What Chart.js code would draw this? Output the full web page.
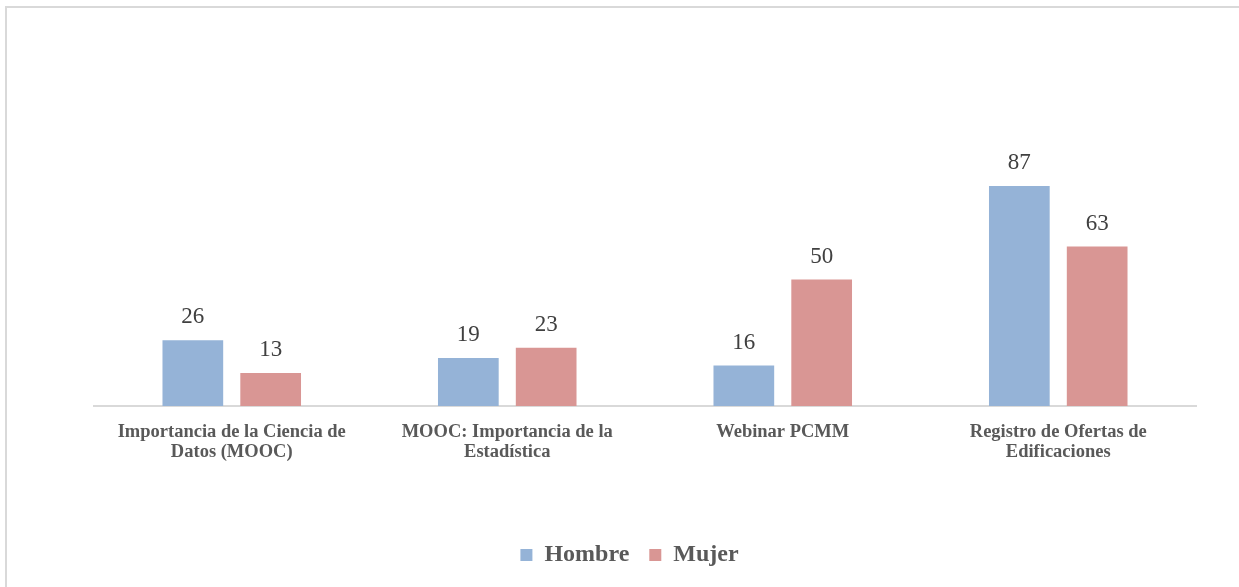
<!DOCTYPE html>
<html>
<head>
<meta charset="utf-8">
<script src="https://cdn.jsdelivr.net/npm/chart.js@4.4.1/dist/chart.umd.min.js"></script>
<style>
    html, body { margin: 0; padding: 0; background: #fff; overflow: hidden; }
    #frame { position: absolute; left: 5px; top: 6px; width: 1300px; height: 700px; border: 2px solid #d9d9d9; }
    #wrap { position: absolute; left: 0; top: 0; width: 1239px; height: 587px; }
</style>
</head>
<body>
<div id="frame"></div>
<div id="wrap"><canvas id="bargraph"></canvas></div>
<script>
// Chart data
var categories = [
    ['Importancia de la Ciencia de', 'Datos (MOOC)'],
    ['MOOC: Importancia de la', 'Estadística'],
    'Webinar PCMM',
    ['Registro de Ofertas de', 'Edificaciones']
];
var hombre = [26, 19, 16, 87];
var mujer = [13, 23, 50, 63];

var serif = '"Liberation Serif", "Times New Roman", serif';

// value labels above the bars
var valueLabels = {
    id: 'valueLabels',
    afterDatasetsDraw: function(chart) {
        var ctx = chart.ctx;
        ctx.save();
        ctx.font = '23px ' + serif;
        ctx.fillStyle = '#404040';
        ctx.textAlign = 'center';
        ctx.textBaseline = 'middle';
        chart.data.datasets.forEach(function(ds, i) {
            chart.getDatasetMeta(i).data.forEach(function(bar, j) {
                ctx.fillText(ds.data[j], bar.x, bar.y - 23);
            });
        });
        ctx.restore();
    }
};

var ctx = document.getElementById('bargraph').getContext('2d');
window.myBar = new Chart(ctx, {
    type: 'bar',
    data: {
        labels: categories,
        datasets: [{
            label: 'Hombre',
            backgroundColor: '#95b3d7',
            data: hombre
        }, {
            label: 'Mujer',
            backgroundColor: '#d99694',
            data: mujer
        }]
    },
    options: {
        responsive: true,
        maintainAspectRatio: false,
        animation: false,
        categoryPercentage: 0.565,
        barPercentage: 0.78,
        layout: {
            padding: { left: 63, right: 43, top: 153, bottom: 10 }
        },
        scales: {
            x: {
                grid: { display: false },
                border: { color: '#d9d9d9', width: 2 },
                afterFit: function(scale) {
                    scale.height = 117;
                },
                ticks: {
                    color: '#595959',
                    padding: 8,
                    maxRotation: 0,
                    autoSkip: false,
                    font: { family: serif, size: 18.5, weight: 'bold', lineHeight: 1.1 }
                }
            },
            y: {
                display: true,
                min: 0,
                max: 100,
                grid: { display: false },
                border: { display: false },
                ticks: { display: false },
                afterFit: function(scale) {
                    scale.width = 31;
                }
            }
        },
        plugins: {
            legend: {
                position: 'bottom',
                labels: {
                    color: '#595959',
                    boxWidth: 12,
                    boxHeight: 12,
                    padding: 20,
                    font: { family: serif, size: 24, weight: 'bold' }
                }
            },
            tooltip: { enabled: false }
        }
    },
    plugins: [valueLabels]
});
</script>
</body>
</html>
